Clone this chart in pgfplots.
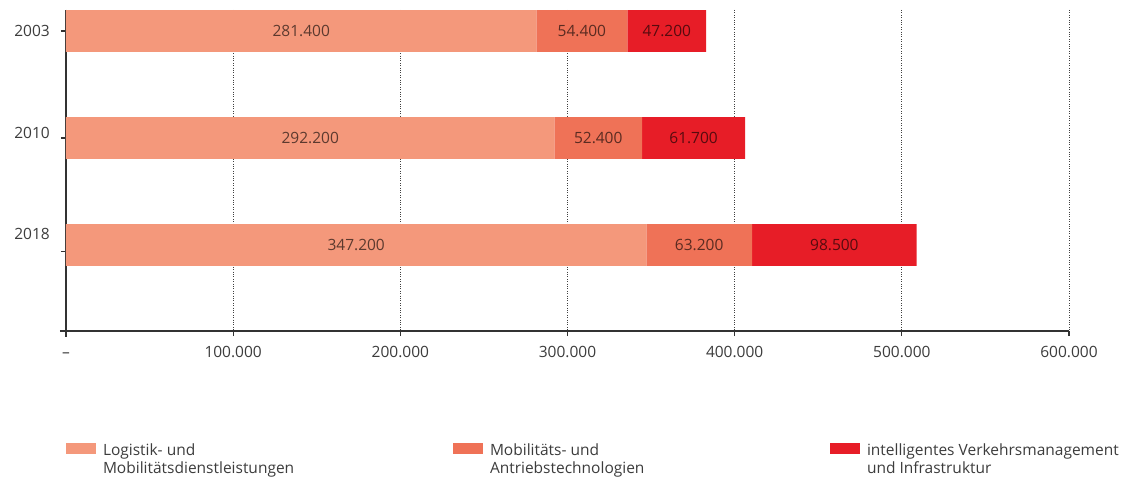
\documentclass[border=0pt]{standalone}
\usepackage{fontspec}
\setmainfont{Open Sans}
\usepackage{pgfplots}
\pgfplotsset{compat=1.18}
\definecolor{cA}{RGB}{244,152,123}
\definecolor{cB}{RGB}{239,114,87}
\definecolor{cC}{RGB}{231,29,39}
\definecolor{axisgray}{RGB}{50,50,50}
\definecolor{txtgray}{RGB}{60,60,60}
\begin{document}
\begin{tikzpicture}
\useasboundingbox (0pt,0pt) rectangle (1131pt,478pt);
\begin{axis}[
  at={(66pt,147pt)}, anchor=south west,
  scale only axis, width=1003pt, height=321pt,
  xbar stacked, bar width=0.39,
  xmin=0, xmax=600, ymin=-0.196, ymax=2.804,
  y dir=reverse,
  axis x line*=bottom, axis y line*=left,
  axis line style={axisgray, line width=1.1pt},
  x axis line style={shorten <=-6pt},
  y axis line style={shorten >=-6pt},
  xtick={0,100,200,300,400,500,600},
  xticklabels={\vphantom{0}–,100.000,200.000,300.000,400.000,500.000,600.000},
  xtick style={axisgray, line width=1.1pt},
  tick align=outside, major tick length=5pt,
  xticklabel style={inner sep=0pt, yshift=-10pt, text=txtgray},
  ytick={0,1,2.065}, yticklabels={},
  ytick style={axisgray, line width=1.1pt},
  extra y ticks={0,0.953,1.897},
  extra y tick labels={2003,2010,2018},
  extra y tick style={major tick length=0pt, yticklabel style={inner sep=0pt, xshift=-16pt, text=txtgray}},
  xmajorgrids, grid style={dotted, black!75, line width=0.9pt},
  /pgf/number format/assume math mode=true,
  tick label style={font=\fontsize{15.5}{18}\selectfont},
  visualization depends on={rawx \as \rawx},
  nodes near coords={\pgfmathprintnumber[fixed,fixed zerofill,precision=3,use period]{\rawx}},
  every node near coord/.append style={anchor=center, font=\fontsize{15.5}{18}\selectfont, text=black, text opacity=0.62},
  legend columns=3, legend cell align=left,
  legend image code/.code={\fill[#1] (0pt,-3pt) rectangle (30pt,8pt);},
  legend style={at={(axis description cs:0,-0.348)}, anchor=north west, draw=none, fill=none, inner sep=0pt, outer sep=0pt,
    font=\fontsize{15.5}{18}\selectfont, text=txtgray,
    nodes={inner sep=0pt},
    /tikz/every odd column/.append style={column sep=7pt},
    /tikz/every even column/.append style={column sep=0pt}},
]
\addplot[fill=cA, draw=none] coordinates {(281.4,0) (292.2,1) (347.2,2)};
\addlegendentry{\parbox[t]{350pt}{Logistik- und\\Mobilitätsdienstleistungen}}
\addplot[fill=cB, draw=none] coordinates {(54.4,0) (52.4,1) (63.2,2)};
\addlegendentry{\parbox[t]{340pt}{Mobilitäts- und\\Antriebstechnologien}}
\addplot[fill=cC, draw=none] coordinates {(47.2,0) (61.7,1) (98.5,2)};
\addlegendentry{\parbox[t]{300pt}{intelligentes Verkehrsmanagement\\und Infrastruktur}}
\end{axis}
\end{tikzpicture}
\end{document}
